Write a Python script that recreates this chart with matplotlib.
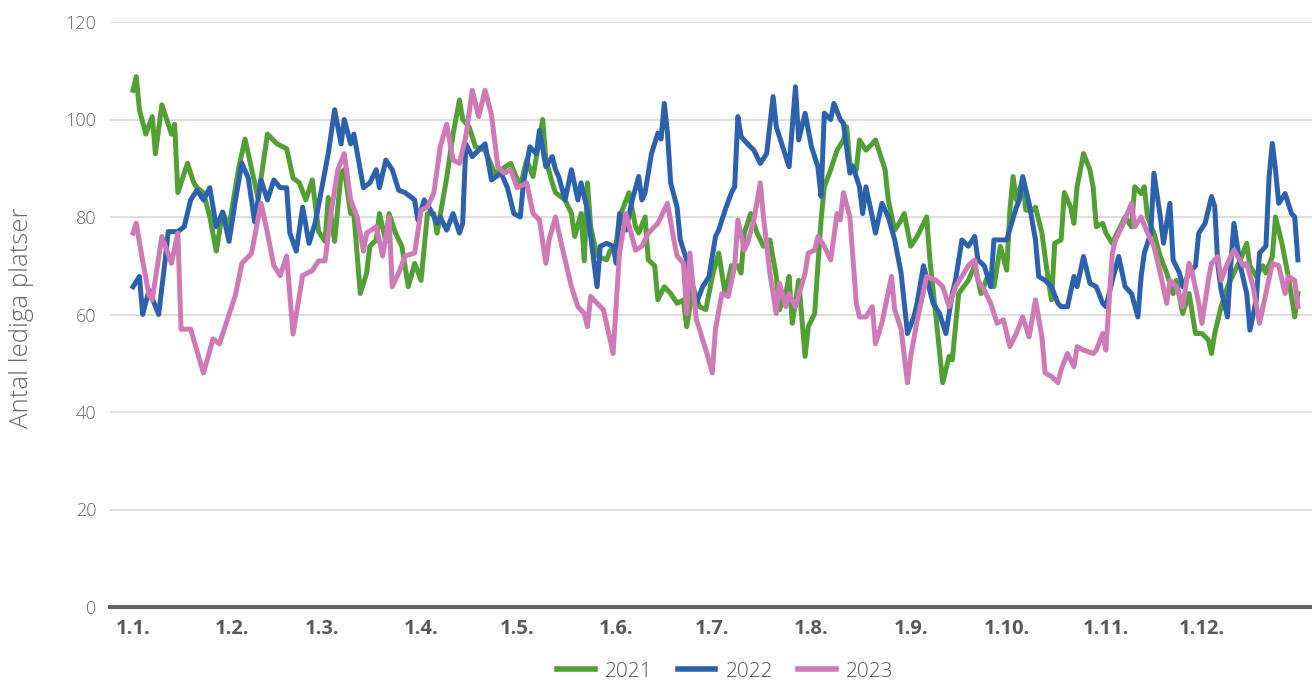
import matplotlib
matplotlib.use("Agg")
import matplotlib.pyplot as plt

# day of year (0 = 1 Jan) and free places
days_2021 = [0, 1, 2, 4, 6, 7, 9, 12, 13, 14, 17, 19, 20, 22, 24, 26, 28, 30, 33, 35,
             37, 39, 40, 42, 45, 48, 50, 52, 54, 56, 58, 60,
             61, 63, 65, 66, 68, 69, 71, 73, 74, 76, 77, 79, 80, 82, 84, 86, 88, 90,
             92, 94, 95, 98, 100, 102, 103, 105, 107, 110, 113, 115, 118,
             121, 123, 125, 128, 129, 131, 132, 135, 137, 138, 140, 141, 142, 143, 145,
             148, 149, 151, 152, 155, 157, 158, 160, 161, 163, 164, 166, 168, 170, 172,
             173, 175, 177, 179, 181, 183,
             185, 187, 189, 190, 191, 193, 195, 197, 199, 201, 202, 204, 205, 206, 208,
             210, 211, 213, 214, 215, 216, 218, 220, 222, 223, 224, 226, 227, 229, 231,
             232, 235, 236, 238, 240, 241, 243, 245,
             248, 249, 251, 253, 255, 256, 258, 261, 263, 265, 267, 269, 271, 273, 274,
             275, 276, 278, 279, 281, 282, 284, 286, 287, 288, 290, 291, 293, 294, 295,
             297, 299, 300, 301, 303, 304, 306, 307,
             310, 312, 313, 315, 316, 317, 319, 321, 323, 325, 326, 328, 330, 332, 334,
             336, 337, 338, 340, 342, 344, 346, 348, 349, 351, 353, 354, 356, 357, 359,
             361, 363, 364]
vals_2021 = [106, 108.8, 102, 97, 100.6, 93, 103, 97, 99, 85, 91, 87, 86, 85, 80, 73, 81, 78, 90, 96,
             90, 84, 88, 97, 95, 94, 88, 87, 83.5, 87.6, 77, 75,
             84, 75, 89, 89.7, 80.7, 80.7, 64.3, 68.5, 74, 75.3, 80.7, 75, 80.7, 76.7, 74, 65.7, 70.5, 67,
             80.7, 80.7, 76.7, 88, 97, 104, 100, 98.5, 94.4, 93.7, 89, 89.7, 91,
             86.2, 91.7, 88.3, 100, 91.7, 87, 85, 83.5, 80.7, 76, 80.7, 71, 87, 78, 72,
             71.2, 73, 74.6, 80, 85, 78, 76.7, 80, 71.2, 70, 63, 65.7, 64.3, 62.3, 63,
             57.5, 65.7, 61.6, 61, 67.8, 72.6,
             64.3, 70, 70, 68.5, 76.7, 80.7, 76.7, 74, 75.3, 67.8, 61, 64.3, 67.8, 58.2, 67,
             51.4, 57.5, 60.2, 70, 79.4, 86.2, 89.7, 93.7, 95.8, 98.5, 91, 89.7, 95.8, 93.7, 95,
             95.8, 89.7, 83.5, 77.3, 79.4, 80.7, 74, 76,
             80, 71.2, 58.9, 46, 51.4, 50.7, 64.3, 67, 70, 64.3, 67.8, 65.7, 74, 69.1, 81.4,
             88.3, 83.5, 87.6, 81.4, 81.4, 82, 76.7, 67, 63, 74.6, 75.3, 85, 82, 78.7, 86.2,
             93, 89.7, 86.2, 78, 78.7, 76.7, 74.6, 76,
             80, 78, 86.2, 84.8, 86.2, 80, 76.7, 71.9, 68.5, 64.3, 67, 60.2, 64.3, 56.1, 56.1,
             54.8, 52, 56.1, 61.6, 65.7, 68.5, 71.2, 74.6, 70, 67.8, 70, 68.5, 71.9, 80, 74.6,
             67.8, 59.5, 64.3]

days_2022 = [0, 2, 3, 5, 8, 10, 11, 14, 16, 18, 20, 22, 24, 26, 28, 30, 32, 34, 36, 38,
             40, 42, 44, 46, 48, 49, 51, 53, 55, 57, 59,
             61, 63, 65, 66, 68, 69, 72, 74, 76, 77, 79, 81, 83, 85, 88, 89, 91, 93, 95,
             96, 98, 100, 102, 103, 104, 106, 108, 110, 112, 115, 117, 119,
             121, 122, 124, 126, 127, 129, 131, 132, 133, 135, 137, 139, 140, 142, 143,
             145, 146, 148, 150, 151, 152, 154, 156, 158, 159, 160, 162, 164, 165, 166,
             167, 168, 170, 171, 173, 175, 176, 178, 180, 182, 183,
             185, 187, 188, 189, 190, 192, 194, 196, 198, 200, 201, 203, 205, 207, 208,
             210, 212, 214, 215, 216, 218, 219, 221, 222, 224, 225, 227, 228, 229, 231,
             232, 234, 236, 238, 240, 241, 242, 244, 245,
             247, 250, 252, 254, 256, 257, 259, 261, 263, 264, 266, 268, 269, 271, 273,
             276, 277, 278, 280, 282, 283, 285, 287, 289, 290, 292, 294, 295, 297, 299,
             301, 303, 304, 306,
             308, 310, 312, 314, 315, 316, 318, 319, 321, 322, 324, 325, 327, 328, 330,
             332, 333, 335, 337, 338, 339, 340, 342, 343, 344, 346, 348, 349, 351, 352,
             354, 355, 356, 357, 358, 360, 362, 363, 364]
vals_2022 = [65.7, 67.8, 60, 65, 60, 71, 77, 77, 78, 83.5, 85.5, 83.5, 86, 78, 81, 75, 83.5, 91, 88, 79,
             87.6, 83.5, 87.6, 86, 86, 76.7, 73, 82, 74.6, 79, 86,
             93, 102, 95, 100, 95, 97, 86, 87, 89.7, 86, 91.7, 89.7, 85.5, 85, 83.5, 79.4, 83.5, 81.4, 78.7,
             80, 77.3, 80.7, 76.7, 78.7, 95, 92.4, 93.7, 95, 87.6, 89, 86, 80.7,
             80, 87, 94.4, 93, 97.8, 90.3, 92.4, 89.7, 88.3, 83.5, 89.7, 83.5, 87, 81.4, 76,
             65.7, 74, 74.6, 74, 70.5, 80.7, 77.3, 83.5, 88.3, 83.5, 85, 93, 97.2, 96, 103.3,
             97.2, 87, 82, 75.3, 71.2, 65, 62.3, 65.7, 67.8, 76, 77.3,
             81.4, 85, 86.2, 100.6, 96.5, 95, 93.7, 91, 93, 104.7, 98.5, 94.4, 90.3, 106.7, 95.8,
             101.3, 94.4, 90.3, 84.2, 101.3, 100, 103.3, 100, 99.2, 89, 90.3, 86.2, 80.7, 86.2, 80,
             76.7, 82.8, 80, 75.3, 68.5, 62.3, 56.1, 59.5, 62.3,
             70, 62.3, 60.2, 56.1, 64.3, 67, 75.3, 74, 76, 71.2, 70, 65.7, 75.3, 75.3, 75.3,
             82, 83.5, 88.3, 82.8, 75.3, 67.8, 67, 65.7, 62.3, 61.6, 61.6, 67.8, 65.7, 71.9, 66.4,
             65.7, 62.3, 61.6, 67,
             71.9, 65.7, 64.3, 59.5, 67.8, 72.6, 76.7, 89, 80, 74.6, 82.8, 71.2, 68.5, 65.7, 68.5,
             70, 76.7, 78.7, 84.2, 82.2, 70, 65, 59.5, 70, 78.7, 70, 64.3, 56.8, 63, 72.6,
             74, 88.3, 95.1, 89.7, 82.8, 84.8, 80.7, 80, 71.2]

days_2023 = [0, 1, 3, 5, 6, 9, 12, 14, 15, 18, 22, 25, 27, 30, 32, 34, 37, 40, 42, 44,
             46, 48, 50, 53, 56, 58,
             60, 62, 64, 66, 68, 70, 72, 73, 76, 78, 80, 81, 83, 85, 88, 90, 92, 94, 96,
             98, 100, 102, 104, 106, 108, 110, 112, 114, 116, 118, 120,
             123, 125, 127, 129, 130, 132, 134, 137, 139, 141, 142, 143, 145, 147, 150,
             152, 154, 157, 159, 161, 164, 167, 169, 170, 172, 173, 174, 176, 177, 179,
             181, 182,
             184, 186, 188, 189, 191, 192, 194, 196, 197, 199, 201, 202, 204, 205, 207,
             210, 211, 213, 214, 216, 218, 220, 221, 222, 224, 226, 227, 229, 231, 232,
             234, 237, 238, 240, 242, 243, 245,
             248, 251, 253, 255, 257, 259, 261, 263, 264, 266, 268, 270, 272, 274, 276,
             278, 280, 282, 284, 285, 287, 289, 290, 292, 294, 295, 297, 300, 301, 303,
             304, 306, 307,
             309, 312, 313, 315, 317, 319, 321, 323, 324, 326, 328, 330, 331, 333, 334,
             336, 337, 339, 340, 342, 344, 347, 348, 350, 352, 354, 356, 358, 360, 361,
             363, 364]
vals_2023 = [76.7, 78.7, 71, 64, 63, 76, 70.5, 76.7, 57, 57, 48, 55, 54, 60, 64, 70.5, 72.5, 82.8, 76.7, 70,
             68, 72, 56, 68, 69, 71,
             71, 81.4, 89.7, 93, 83.5, 80, 73, 76.7, 78, 72, 80, 65.7, 68.5, 72, 72.6, 81.4, 82, 85, 94.4,
             99, 91.7, 91, 96.5, 106, 100.6, 106, 101, 90.3, 89, 89.7, 86,
             87, 80.7, 79.4, 70.5, 75.3, 80, 74, 65.7, 61.6, 60.2, 57.5, 63.7, 62.3, 61, 52,
             72.6, 80.7, 73.2, 74, 76.7, 78.7, 82.8, 75.3, 72, 70.5, 60.2, 72.6, 59, 57, 52.7,
             48, 57,
             64.3, 63.7, 70, 79.4, 73.2, 74.6, 79.4, 87, 80, 68.5, 60.2, 66.4, 61.6, 64.3, 61.6,
             68.5, 72.6, 73.2, 76, 74, 71.2, 80.7, 79.4, 85, 80, 62.3, 59.5, 59.5, 61.6, 54,
             58.2, 67.8, 61, 57, 46, 51.4, 58.7,
             67.8, 67, 65.7, 61.6, 65.7, 67.8, 70, 71.2, 67, 65, 62.3, 58.2, 58.9, 53.4, 56.1,
             59.5, 55.4, 63, 55.4, 48, 47.3, 46, 48.7, 52, 49.3, 53.4, 52.7, 52, 52.7, 56.1,
             52.7, 72.6, 75.3,
             78, 82.8, 78, 80, 76.7, 74, 68.5, 62.3, 67, 65.7, 61.6, 70.5, 68.5, 62.3, 58.2,
             67, 70.5, 71.9, 67, 70.5, 73.2, 70, 70.5, 65.7, 58.2, 64.3, 70.5, 70, 64.3, 67.8,
             67, 61.6]

month_starts = [0, 31, 59, 90, 120, 151, 181, 212, 243, 273, 304, 334]
month_labels = ["1.1.", "1.2.", "1.3.", "1.4.", "1.5.", "1.6.",
                "1.7.", "1.8.", "1.9.", "1.10.", "1.11.", "1.12."]
y_ticks = [0, 20, 40, 60, 80, 100, 120]

plt.rcParams['font.family'] = ['Open Sans', 'DejaVu Sans']

fig = plt.figure(figsize=(13.12, 6.86), dpi=100)
ax = fig.add_axes([110 / 1312, 1 - 607 / 686, 1 - 110 / 1312, (607 - 22) / 686])

lw = 3.6
ax.plot(days_2021, vals_2021, color="#52a033", lw=lw, label="2021", solid_joinstyle="round")
ax.plot(days_2022, vals_2022, color="#2c61ad", lw=lw, label="2022", solid_joinstyle="round")
ax.plot(days_2023, vals_2023, color="#cf79b6", lw=lw, label="2023", solid_joinstyle="round")

ax.set_xlim(-7.2, 368.4)
ax.set_ylim(0, 120)
ax.set_yticks(y_ticks)
ax.set_xticks(month_starts)
ax.set_xticklabels(month_labels, fontweight="bold", color="#5a5a5a", fontsize=14.5)
ax.tick_params(axis="x", length=0, pad=9)
ax.tick_params(axis="y", length=0, pad=10, labelsize=13, labelcolor="#666666")
for lab in ax.get_yticklabels():
    lab.set_fontweight("light")

ax.grid(axis="y", color="#d9d9d9", lw=1.2)
ax.set_axisbelow(True)
for side in ["left", "right", "top"]:
    ax.spines[side].set_visible(False)
ax.spines["bottom"].set_color("#626262")
ax.spines["bottom"].set_linewidth(2.9)
ax.spines["bottom"].set_zorder(5)

fig.text(22 / 1312, 1 - 318 / 686, "Antal lediga platser", rotation=90,
         ha="center", va="center", fontsize=18.5, color="#6a6a6a", fontweight="light")

# legend sits right at the bottom edge, as in the original
leg = fig.legend(loc="center", bbox_to_anchor=(0.553, 0.021), ncol=3, frameon=False,
                 fontsize=15, handlelength=1.8, handletextpad=0.5, columnspacing=1.2,
                 borderpad=0.1)
for t in leg.get_texts():
    t.set_color("#555555")
    t.set_fontweight("light")
for h in leg.get_lines():
    h.set_linewidth(4)

fig.savefig("out.png", dpi=100)
